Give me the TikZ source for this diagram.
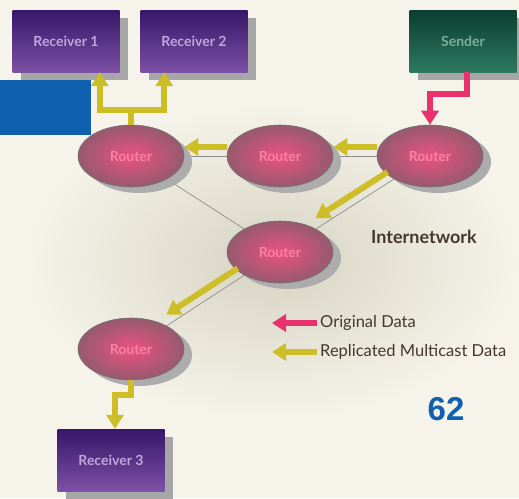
\documentclass[tikz,border=0pt]{standalone}
\usepackage{fontspec}
\setmainfont{Lato}
\newfontfamily\numfont{Liberation Sans}
\usetikzlibrary{arrows.meta,shapes,positioning,calc,shadows,backgrounds}
\definecolor{netPurple}  {RGB}{ 55, 22, 105}
\definecolor{netPurpleLt}{RGB}{125, 80, 165}
\definecolor{netTeal}    {RGB}{ 10, 62,  50}
\definecolor{netTealLt}  {RGB}{ 45,120,  95}
\definecolor{netBlue}    {RGB}{ 16, 96, 176}
\definecolor{netPink}    {RGB}{232, 50, 110}
\definecolor{netOlive}   {RGB}{205,190,  40}
\definecolor{netRouter}  {RGB}{150, 90, 110}
\definecolor{netText}    {RGB}{ 70, 55,  45}
\definecolor{netBg}      {RGB}{246,244,234}
\definecolor{netCloud}   {RGB}{214,211,194}

\begin{document}
\begin{tikzpicture}[x=1pt,y=-1pt,
    hostbox/.style={rectangle,minimum width=107pt,minimum height=62pt,inner sep=0pt,
      font=\bfseries\fontsize{14}{14}\selectfont,
      drop shadow={shadow xshift=8pt,shadow yshift=-8pt,fill=gray!70,opacity=1}},
    recvbox/.style={hostbox,top color=netPurple,bottom color=netPurpleLt,
      text={rgb,255:red,195;green,165;blue,220}},
    sendbox/.style={hostbox,top color=netTeal,bottom color=netTealLt,
      text={rgb,255:red,125;green,175;blue,155}},
    router/.style={ellipse,minimum width=106pt,minimum height=62pt,inner sep=0pt,
      inner color=netPink!85,outer color=netRouter,draw=black!55,line width=0.6pt,
      font=\bfseries\fontsize{14}{14}\selectfont,
      text={rgb,255:red,250;green,130;blue,160},
      drop shadow={shadow xshift=8pt,shadow yshift=-6pt,fill=gray!65,opacity=1}},
    origarrow/.style={draw=netPink,line width=6pt,-{Triangle[width=17pt,length=14pt]}},
    multiarrow/.style={draw=netOlive,line width=6pt,-{Triangle[width=17pt,length=14pt]}},
    link/.style={draw=black!45,line width=0.7pt},
    legtext/.style={anchor=west,inner sep=0pt,font=\fontsize{16.5}{16.5}\selectfont,netText}]
  \useasboundingbox (0,0) rectangle (519,498);

  % Hosts
  \node[recvbox] (rec1)   at (66,41)  {Receiver 1};
  \node[recvbox] (rec2)   at (194,41) {Receiver 2};
  \node[sendbox] (sender) at (463,41) {Sender};
  \node[recvbox] (rec3)   at (111,460) {Receiver 3};

  % Routers
  \foreach \n/\px/\py in {rA/131/156, rB/280/156, rC/430/156, rD/280/252, rE/131/349}{
    \node[router] (\n) at (\px,\py) {Router};
  }

  % Background, cloud and links
  \begin{scope}[on background layer]
    \fill[netBg] (0,0) rectangle (519,498);
    \shade[inner color=netCloud,outer color=netBg] (272,262) ellipse [x radius=250,y radius=160];
    \fill[netBlue] (0,80) rectangle (91,135);
    \foreach \a/\b in {rA/rB, rB/rC, rA/rD, rC/rD, rD/rE}{
      \draw[link] (\a) -- (\b);
    }
  \end{scope}

  % Data flow
  \draw[origarrow] ([xshift=4pt]sender.south) -- ++(0,22) -| (rC.north);
  \draw[multiarrow] ([yshift=9pt]rC.west) -- ([yshift=9pt]rB.east);
  \draw[multiarrow] ([yshift=9pt]rB.west) -- ([yshift=9pt]rA.east);
  \draw[multiarrow] (rA.north) -- ++(0,-15) -| ([xshift=-20pt]rec1.south east);
  \draw[multiarrow] (rA.north) -- ++(0,-15) -| ([xshift=24pt]rec2.south west);
  \draw[multiarrow] ($(rC)!0.25!(rD)+(-5,-8)$) -- ($(rD)!0.27!(rC)+(-5,-8)$);
  \draw[multiarrow] ($(rD)!0.25!(rE)+(-5,-8)$) -- ($(rE)!0.27!(rD)+(-5,-8)$);
  \draw[multiarrow] (rE.south) -- ++(0,15) -| ([xshift=4pt]rec3.north);

  % Labels and legend
  \node[font=\bfseries\fontsize{18}{18}\selectfont,netText] (inet) at (424,237) {Internetwork};
  \node[legtext] (lgOrig)  at (320,323) {Original Data};
  \node[legtext] (lgMulti) at (320,352) {Replicated Multicast Data};
  \draw[origarrow]  ([xshift=-3pt]lgOrig.west)  -- ++(-45,0);
  \draw[multiarrow] ([xshift=-3pt]lgMulti.west) -- ++(-45,0);
  \node[font=\numfont\bfseries\fontsize{33}{33}\selectfont,netBlue] (page) at (446,409) {62};
\end{tikzpicture}
\end{document}
